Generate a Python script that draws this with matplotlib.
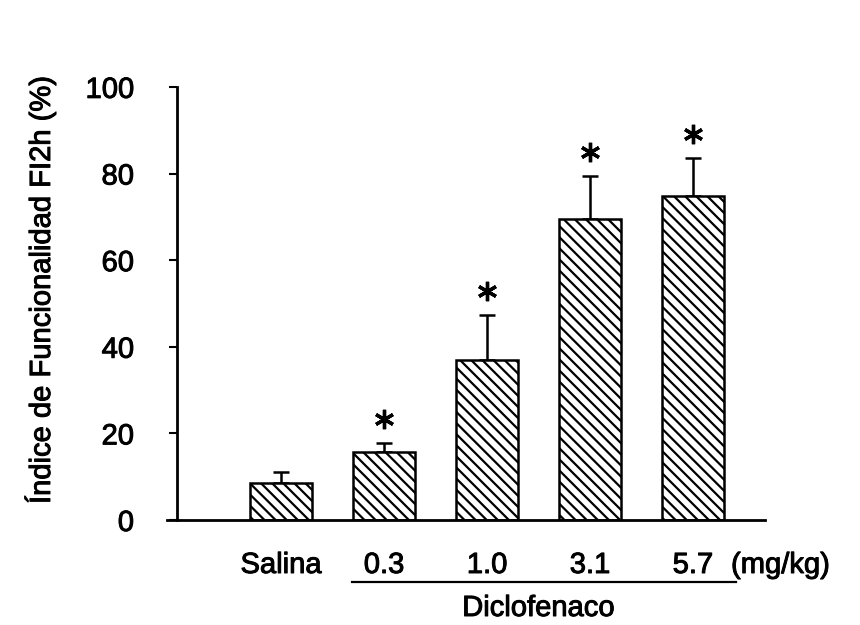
import numpy as np
import matplotlib
matplotlib.use('Agg')
import matplotlib.pyplot as plt
from matplotlib import transforms
import matplotlib.patheffects as pe

plt.rcParams['font.family'] = ['Liberation Sans', 'DejaVu Sans']
plt.rcParams['hatch.linewidth'] = 1.6

# datos
grupos = ['Salina', '0.3', '1.0', '3.1', '5.7']
media = [8.5, 15.7, 37.0, 69.5, 74.8]
error = [2.6, 2.1, 10.3, 9.9, 8.8]
signif = [False, True, True, True, True]      # asterisco
yticks = [0, 20, 40, 60, 80, 100]

fs = 21
grueso = [pe.withStroke(linewidth=0.7, foreground='black')]

fig = plt.figure(figsize=(8.6, 6.25), dpi=100)
ax = fig.add_axes([167/860, 0.168, (765-167)/860, 0.693])

x = np.arange(len(grupos))
ax.bar(x, media, width=0.6, color='white', edgecolor='black', linewidth=1.8,
       hatch='\\\\\\', zorder=2)
ax.errorbar(x, media, yerr=[np.zeros(len(x)), error], fmt='none', ecolor='black',
            elinewidth=1.8, capsize=6, capthick=1.8, zorder=1)

# asteriscos
for xi, m, e, s in zip(x, media, error, signif):
    if s:
        ax.plot(xi, m + e + 5.5, marker=(6, 2, 0), markersize=14,
                markeredgewidth=2.4, color='black')

ax.set_xlim(-1.107, 4.70)
ax.set_ylim(0, 100)
ax.spines['top'].set_visible(False)
ax.spines['right'].set_visible(False)
ax.spines['left'].set_position(('data', -1.01))
ax.spines['left'].set_linewidth(2)
ax.spines['bottom'].set_linewidth(2)
ax.set_xticks([])
ax.set_yticks(yticks)
ax.tick_params(axis='y', direction='out', length=6, width=1.5, pad=25, labelsize=fs)
for lb in ax.get_yticklabels():
    lb.set_path_effects(grueso)

fig.text(40/860, 0.536, 'Índice de Funcionalidad FI2h (%)', rotation=90,
         ha='center', va='center', fontsize=fs, path_effects=grueso)

# etiquetas bajo el eje
tr = transforms.blended_transform_factory(ax.transData, fig.transFigure)
for xi, g in zip(x, grupos):
    ax.text(xi, 1 - 565/625, g, transform=tr, ha='center', va='center', fontsize=fs,
            path_effects=grueso)
ax.text(4.37, 1 - 565/625, '(mg/kg)', transform=tr, ha='left', va='center', fontsize=fs,
        path_effects=grueso)
ax.plot([0.69, 4.42], [1 - 582/625] * 2, transform=tr, color='black', lw=1.6,
        clip_on=False)
ax.text(2.5, 1 - 608/625, 'Diclofenaco', transform=tr, ha='center', va='center',
        fontsize=fs, path_effects=grueso)

fig.savefig('out.png', dpi=100)
